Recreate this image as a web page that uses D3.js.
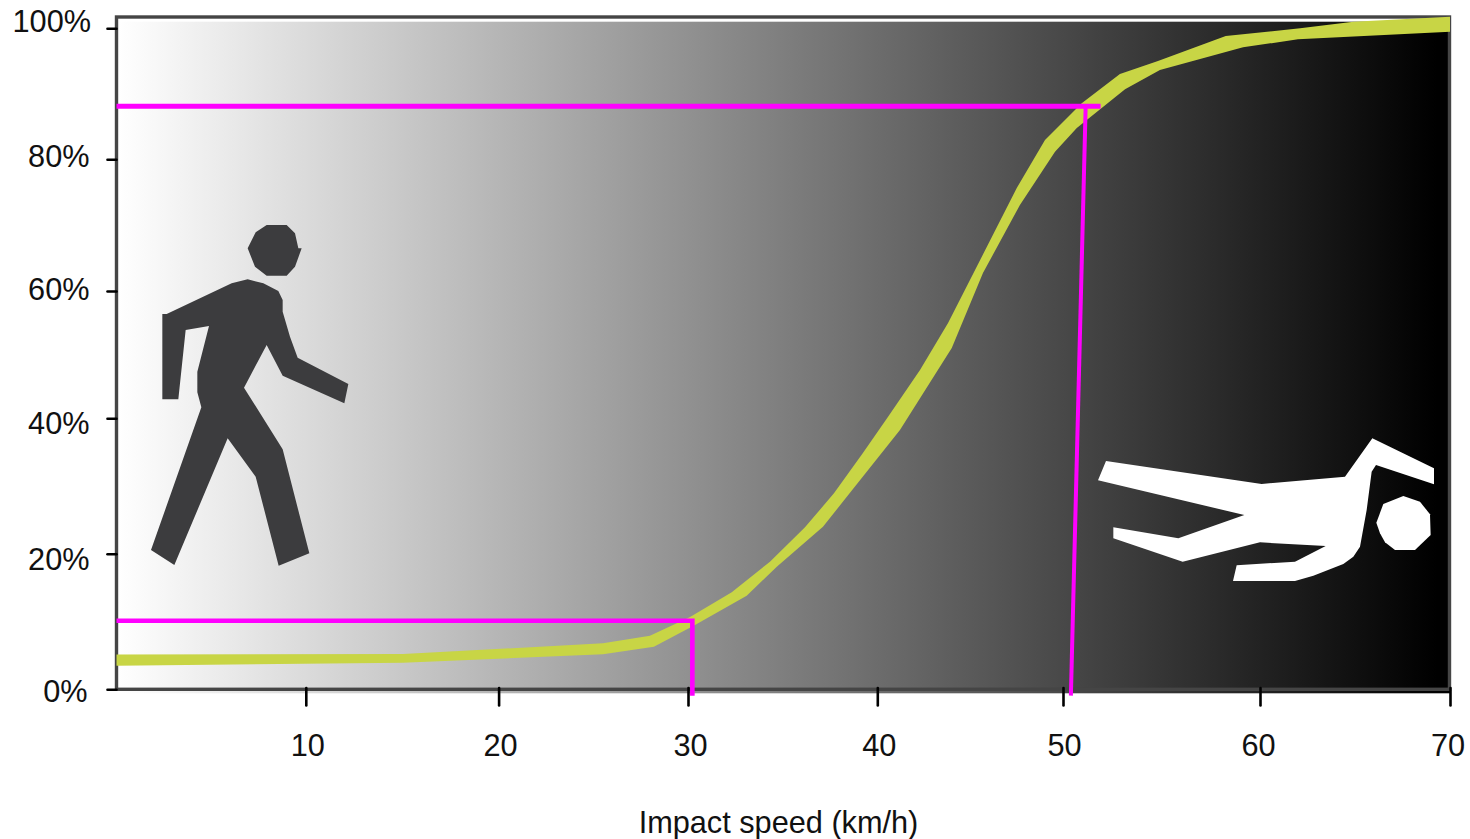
<!DOCTYPE html>
<html>
<head>
<meta charset="utf-8">
<script src="https://cdn.jsdelivr.net/npm/d3@7/dist/d3.min.js"></script>
<style>
html,body{margin:0;padding:0;background:#fff;overflow:hidden}
svg{display:block}
text{font-family:"Liberation Sans",Arial,sans-serif;fill:#111}
</style>
</head>
<body>
<svg id="chart" width="1470" height="839"></svg>
<script>
// ---- data ----
const speedTicks = [10, 20, 30, 40, 50, 60, 70];
const riskTicks = [0, 20, 40, 60, 80, 100];

// The fatality-risk curve is drawn as a ribbon with two separately kinked edges
const upperSpeed = [0, 15.04, 25.51, 27.99, 30.11, 32.31, 34.33, 36.18, 37.71, 39.24, 40.58, 42.30, 43.81, 44.99, 47.51, 49.03, 50.95, 52.89, 54.82, 58.26, 62.11, 64.91, 70];
const upperRisk = [5.13, 5.21, 6.78, 7.91, 10.66, 14.31, 18.82, 23.90, 28.92, 34.87, 40.25, 47.59, 54.97, 61.67, 75.64, 82.95, 88.55, 93.02, 95.0, 98.82, 100, 101.0, 101.77];
const lowerSpeed = [0, 15.04, 25.51, 28.2, 30.37, 33.1, 34.69, 37.13, 38.19, 41.22, 44.01, 45.69, 47.68, 49.57, 50.70, 53.15, 54.92, 59.14, 62.0, 70];
const lowerRisk = [3.48, 3.92, 5.16, 6.28, 9.48, 13.80, 18.08, 23.99, 27.7, 38.27, 51.04, 62.73, 73.06, 81.16, 84.78, 90.69, 93.63, 97.10, 98.32, 99.48];

// Magenta reference lines: [speed, risk] vertices
const guide30Speed = [0, 30.23, 30.23];
const guide30Risk = [10.12, 10.12, -0.94];
const guide50HSpeed = [0, 51.91];
const guide50HRisk = [88.09, 88.09];
const guide50VSpeed = [51.15, 50.4];
const guide50VRisk = [88.09, -0.94];

const xTitle = "Impact speed (km/h)";

// ---- scales (the source chart's ticks are unevenly spaced) ----
const x = d3.scaleLinear()
  .domain([0, 10, 20, 30, 40, 50, 60, 70])
  .range([116.5, 305.8, 498.6, 688, 877.3, 1063, 1260, 1450]);
const y = d3.scaleLinear()
  .domain(riskTicks)
  .range([689.3, 553.7, 418.3, 291, 159.3, 28.3]);

const svg = d3.select("#chart");

// ---- background gradient ----
const grad = svg.append("defs").append("linearGradient")
  .attr("id", "bg").attr("x1", "0").attr("x2", "1").attr("y1", "0").attr("y2", "0");
grad.append("stop").attr("offset", "0").attr("stop-color", "#ffffff");
grad.append("stop").attr("offset", "0.99").attr("stop-color", "#000000");
grad.append("stop").attr("offset", "1").attr("stop-color", "#000000");

svg.append("rect").attr("x", 118).attr("y", 21.7).attr("width", 1332).attr("height", 671.6)
  .attr("fill", "url(#bg)");
svg.append("rect").attr("x", 116.5).attr("y", 17).attr("width", 1333).attr("height", 672.3)
  .attr("fill", "none").attr("stroke", "#454545").attr("stroke-width", 3.4);

// ---- pictograms (local coordinates, one unit = 1/3 pixel) ----
const pic = (tx, ty, pts, fill) => svg.append("polygon")
  .attr("transform", `translate(${tx},${ty}) scale(${1 / 3})`)
  .attr("points", pts.map(p => p.join(",")).join(" "))
  .attr("fill", fill);

const walkerHead = [[380,30],[440,30],[465,55],[475,100],[485,100],[465,155],[440,182],[380,182],[345,155],[323,100],[347,52]];
const walkerBody = [[80,297],[275,205],[323,193],[370,205],[415,228],[428,255],[428,290],[450,365],[473,428],[625,507],[613,565],[428,482],[380,390],[312,518],[428,703],[508,1015],[416,1052],[347,785],[263,670],[103,1050],[33,1005],[184,577],[172,532],[172,470],[207,333],[137,345],[115,553],[67,553],[67,297]];
pic(140, 215, walkerHead, "#3c3c3e");
pic(140, 215, walkerBody, "#3c3c3e");

const lyingBody = [[78,123],[545,192],[795,170],[877,55],[1062,145],[1062,193],[888,135],[875,155],[860,270],[840,380],[820,410],[790,432],[700,467],[645,483],[459,483],[470,436],[645,425],[737,378],[540,367],[308,425],[100,355],[100,322],[295,355],[493,285],[54,181]];
const lyingHead = [[970,228],[1020,245],[1050,283],[1052,345],[1005,390],[945,390],[915,367],[900,340],[889,308],[910,252]];
pic(1080, 420, lyingBody, "#ffffff");
pic(1080, 420, lyingHead, "#ffffff");

// ---- curve ribbon ----
const line = d3.line().x(d => x(d[0])).y(d => y(d[1]));
const upper = d3.zip(upperSpeed, upperRisk);
const lower = d3.zip(lowerSpeed, lowerRisk).reverse();
svg.append("path")
  .attr("d", line(upper.concat(lower)) + "Z")
  .attr("fill", "#c8d545");

// ---- magenta guides ----
[[guide30Speed, guide30Risk, 4.6], [guide50HSpeed, guide50HRisk, 5], [guide50VSpeed, guide50VRisk, 4]]
  .forEach(([sx, sy, w]) => svg.append("path")
    .attr("d", line(d3.zip(sx, sy)))
    .attr("fill", "none")
    .attr("stroke", "#ff00ff")
    .attr("stroke-width", w));

// ---- axes ----
const labelSize = 30.7;
const yLabelBaseline = [701, 569.5, 433.5, 299.5, 166.8, 31.8];
const yLabelRight = [87.5, 89.5, 89.5, 89.5, 89.5, 91];
const gy = svg.append("g").attr("transform", "translate(116.5,0)")
  .call(d3.axisLeft(y).tickValues(riskTicks).tickFormat(d => d + "%").tickSize(9));
gy.select(".domain").remove();
gy.selectAll("line").attr("stroke", "#000").attr("stroke-width", 2.6).attr("stroke-linecap", "round");
gy.selectAll("text")
  .attr("font-size", labelSize).attr("dy", null).attr("text-anchor", "end")
  .attr("x", (d, i) => yLabelRight[i] - 116.5)
  .attr("y", (d, i) => yLabelBaseline[i] - y(d));

const xLabelShift = [1.5, 1.5, 2, 1.5, 1, -2, -2.5];
const gx = svg.append("g").attr("transform", "translate(0,688)")
  .call(d3.axisBottom(x).tickValues(speedTicks).tickFormat(d => d).tickSize(17.5));
gx.select(".domain").remove();
gx.selectAll("line").attr("stroke", "#000").attr("stroke-width", 2.6).attr("stroke-linecap", "round");
gx.selectAll("text")
  .attr("font-size", labelSize).attr("dy", null).attr("text-anchor", "middle")
  .attr("x", (d, i) => xLabelShift[i])
  .attr("y", 67.5);

svg.append("text").attr("x", 778.5).attr("y", 832.5)
  .attr("text-anchor", "middle").attr("font-size", labelSize).text(xTitle);
</script>
</body>
</html>
